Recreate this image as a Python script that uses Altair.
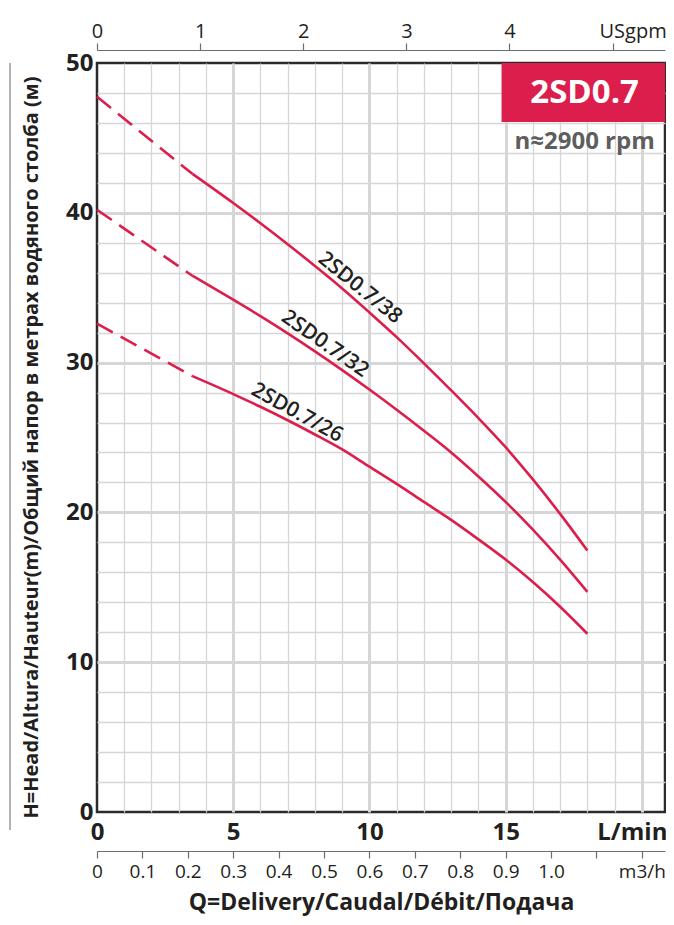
import altair as alt
import pandas as pd

# ---------------- data ----------------
models = ["2SD0.7/38", "2SD0.7/32", "2SD0.7/26"]

# solid part of the Q-H curves (Q in L/min, H in m)
q_38 = [3.5, 5, 6, 7, 8, 9, 10, 11, 12, 13, 14, 15, 16, 17, 18]
h_38 = [42.6, 40.65, 39.3, 37.9, 36.45, 34.95, 33.35, 31.7, 29.95, 28.15, 26.3, 24.35, 22.2, 19.9, 17.45]
q_32 = [3.5, 5, 6, 7, 8, 9, 10, 11, 12, 13, 14, 15, 16, 17, 18]
h_32 = [35.8, 34.2, 33.1, 31.95, 30.75, 29.5, 28.2, 26.85, 25.45, 24.0, 22.4, 20.7, 18.85, 16.85, 14.7]
q_26 = [3.5, 5, 6, 7, 8, 9, 10, 11, 12, 13, 14, 15, 16, 17, 18]
h_26 = [29.1, 27.9, 27.05, 26.15, 25.2, 24.2, 23.05, 21.9, 20.7, 19.5, 18.2, 16.85, 15.35, 13.7, 11.9]

# dashed (low-flow) part of the curves
q_dash_38 = [0, 3.5]
h_dash_38 = [47.75, 42.6]
q_dash_32 = [0, 3.5]
h_dash_32 = [40.2, 35.8]
q_dash_26 = [0, 3.5]
h_dash_26 = [32.6, 29.1]

# curve labels (anchor in data units) and their slope angle
label_q = [9.65, 8.37, 7.34]
label_h = [34.98, 31.24, 26.64]
label_angle = [39, 35, 29]

# axis ticks
lmin_ticks = list(range(0, 21))
head_ticks = list(range(0, 51, 2))
usgpm_ticks = [0, 1, 2, 3, 4, 5]
m3h_ticks = [0, 0.1, 0.2, 0.3, 0.4, 0.5, 0.6, 0.7, 0.8, 0.9, 1.0, 1.1, 1.2]

Q_MAX = 20.85
LMIN_PER_USGPM = 3.78541
M3H_PER_LMIN = 0.06

# badge
badge_text = ["2SD0.7"]
speed_text = ["n≈2900 rpm"]
badge_q = [14.85]
badge_q2 = [Q_MAX]
badge_h = [46.06]
badge_h2 = [50]
badge_text_q = [17.9]
badge_text_h = [48.03]
speed_text_h = [44.73]

# ---------------- styles ----------------
RED = "#DC1E4D"
TEXT = "#231F20"
GRID = "#D6D6D6"
FONT = "Open Sans"

solid = pd.concat(
    [pd.DataFrame({"Q": q, "H": h, "model": m})
     for q, h, m in zip([q_38, q_32, q_26], [h_38, h_32, h_26], models)]
)
dashed = pd.concat(
    [pd.DataFrame({"Q": q, "H": h, "model": m})
     for q, h, m in zip([q_dash_38, q_dash_32, q_dash_26],
                        [h_dash_38, h_dash_32, h_dash_26], models)]
)
labels = pd.DataFrame({"Q": label_q, "H": label_h, "angle": label_angle, "model": models})
badge = pd.DataFrame({"Q": badge_q, "Q2": badge_q2, "H": badge_h, "H2": badge_h2})
badge_lbl = pd.DataFrame({"Q": badge_text_q, "H": badge_text_h, "t": badge_text})
speed_lbl = pd.DataFrame({"Q": badge_text_q, "H": speed_text_h, "t": speed_text})

xs = alt.Scale(domain=[0, Q_MAX], nice=False, zero=False)
ys = alt.Scale(domain=[0, 50], nice=False, zero=False)

x_main = alt.Axis(
    orient="bottom",
    values=lmin_ticks,
    labelExpr="datum.value === 20 ? 'L/min' : (datum.value % 5 === 0 ? datum.label : '')",
    labelOffset={"condition": {"test": "datum.value === 20", "value": -10}, "value": 0},
    labelFont=FONT, labelFontSize=24, labelFontWeight="bold", labelColor=TEXT,
    labelPadding=8, labelFlush=False, labelOverlap=False,
    ticks=False, domain=False,
    grid=True, gridColor=GRID,
    gridWidth={"condition": {"test": "datum.value % 5 === 0", "value": 3}, "value": 1.3},
    gridOpacity={"condition": {"test": "datum.value === 0", "value": 0}, "value": 1},
    title=None,
)

y_main = alt.Axis(
    orient="left",
    values=head_ticks,
    labelExpr="datum.value % 10 === 0 ? datum.label : ''",
    labelFont=FONT, labelFontSize=24, labelFontWeight="bold", labelColor=TEXT,
    labelPadding=4, labelFlush=False, labelOverlap=False,
    ticks=False, domain=False,
    grid=True, gridColor=GRID,
    gridWidth={"condition": {"test": "datum.value % 10 === 0", "value": 3}, "value": 1.3},
    gridOpacity={"condition": {"test": "datum.value === 0 || datum.value === 50", "value": 0}, "value": 1},
    title="H=Head/Altura/Hauteur(m)/Общий напор в метрах водяного столба (м)",
    titleFont=FONT, titleFontSize=20, titleFontWeight="bold", titleColor=TEXT,
    titleAngle=270, titleX=-66, titleY=384, titleAlign="center", titleBaseline="middle",
)

lines = alt.Chart(solid).mark_line(color=RED, strokeWidth=2.6, interpolate="monotone").encode(
    x=alt.X("Q:Q", scale=xs, axis=x_main),
    y=alt.Y("H:Q", scale=ys, axis=y_main),
    detail="model:N",
)

dash_lines = alt.Chart(dashed).mark_line(color=RED, strokeWidth=2.6, strokeDash=[18, 9]).encode(
    x=alt.X("Q:Q", scale=xs, axis=None),
    y=alt.Y("H:Q", scale=ys, axis=None),
    detail="model:N",
)

curve_labels = alt.Chart(labels).mark_text(
    font=FONT, fontSize=21, fontWeight=600, color=TEXT, align="center", baseline="middle"
).encode(
    x=alt.X("Q:Q", scale=xs, axis=None),
    y=alt.Y("H:Q", scale=ys, axis=None),
    text="model:N",
    angle=alt.Angle("angle:Q", scale=None),
)

badge_rect = alt.Chart(badge).mark_rect(color=RED).encode(
    x=alt.X("Q:Q", scale=xs, axis=None),
    x2="Q2:Q",
    y=alt.Y("H:Q", scale=ys, axis=None),
    y2="H2:Q",
)

badge_title = alt.Chart(badge_lbl).mark_text(
    font=FONT, fontSize=33, fontWeight="bold", color="white", align="center", baseline="middle"
).encode(
    x=alt.X("Q:Q", scale=xs, axis=None),
    y=alt.Y("H:Q", scale=ys, axis=None),
    text="t:N",
)

speed_title = alt.Chart(speed_lbl).mark_text(
    font=FONT, fontSize=24, fontWeight="bold", color="#5E5E5E", align="center", baseline="middle"
).encode(
    x=alt.X("Q:Q", scale=xs, axis=None),
    y=alt.Y("H:Q", scale=ys, axis=None),
    text="t:N",
)

overline = alt.Chart(pd.DataFrame({"a": [0]})).mark_rule(color="#666666", strokeWidth=1).encode(
    x=alt.value(-87), y=alt.value(0), y2=alt.value(767)
)

main = alt.layer(
    lines, dash_lines, curve_labels, badge_rect, badge_title, speed_title, overline
).resolve_axis(x="independent", y="independent")

# top axis: US gallons per minute
top_axis = alt.Axis(
    orient="top", offset=13, values=usgpm_ticks,
    labelExpr="datum.value === 5 ? 'USgpm' : datum.label",
    labelOffset={"condition": {"test": "datum.value === 5", "value": 20}, "value": 0},
    labelFont=FONT, labelFontSize=20, labelColor=TEXT, labelPadding=2,
    labelFlush=False, labelOverlap=False,
    ticks=True, tickSize=7, tickColor="#6D6D6D", tickWidth=1.2,
    domain=True, domainColor="#6D6D6D", domainWidth=1.2,
    grid=False, title=None,
)
top_layer = alt.Chart(pd.DataFrame({"G": usgpm_ticks})).mark_point(opacity=0).encode(
    x=alt.X("G:Q", scale=alt.Scale(domain=[0, Q_MAX / LMIN_PER_USGPM], nice=False, zero=False),
            axis=top_axis)
)

# second bottom axis: m3/h
m3h_axis = alt.Axis(
    orient="bottom", offset=39, values=m3h_ticks,
    labelExpr="datum.value === 0 ? '0' : (abs(datum.value - 1.2) < 0.001 ? 'm3/h' : "
              "(abs(datum.value - 1.1) < 0.001 ? '' : format(datum.value, '.1f')))",
    labelFont=FONT, labelFontSize=19, labelColor=TEXT, labelPadding=4,
    labelFlush=False, labelOverlap=False,
    ticks=True, tickSize=7, tickColor="#6D6D6D", tickWidth=1.2,
    domain=True, domainColor="#6D6D6D", domainWidth=1.2,
    grid=False,
    title="Q=Delivery/Caudal/Débit/Подача",
    titleFont=FONT, titleFontSize=23, titleFontWeight="bold", titleColor=TEXT, titlePadding=10,
)
m3h_layer = alt.Chart(pd.DataFrame({"M": m3h_ticks})).mark_point(opacity=0).encode(
    x=alt.X("M:Q", scale=alt.Scale(domain=[0, Q_MAX * M3H_PER_LMIN], nice=False, zero=False),
            axis=m3h_axis)
)

chart = alt.layer(main, top_layer, m3h_layer).resolve_scale(x="independent").properties(
    width=568, height=749,
    autosize=alt.AutoSizeParams(type="none"),
    padding={"left": 89, "top": 55, "right": 1, "bottom": 105},
    background="white",
).configure_view(stroke="#2E2A2B", strokeWidth=2.5)

chart.save("out.html", embed_options={"renderer": "svg", "actions": False})
